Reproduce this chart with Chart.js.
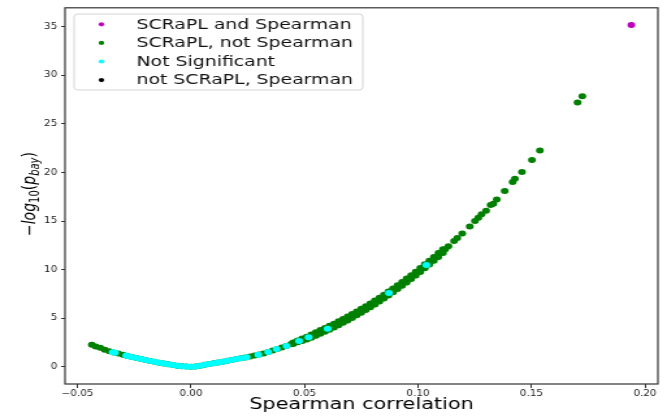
<!DOCTYPE html>
<html>
<head>
<meta charset="utf-8">
<script src="https://cdn.jsdelivr.net/npm/chart.js@4.4.0/dist/chart.umd.min.js"></script>
<style>
  html, body { margin: 0; padding: 0; background: #fff; overflow: hidden; }
  #wrap { width: 513px; height: 417px; transform: scaleX(1.3002); transform-origin: 0 0; }
</style>
</head>
<body>
<div id="wrap"><canvas id="chart" width="513" height="417"></canvas></div>
<script>
// series
let greenX = [-0.0437,-0.042,-0.040,-0.038,-0.036,-0.034,-0.032,-0.030,-0.028,-0.026,-0.024,-0.022,-0.020,-0.018,-0.016,-0.014,-0.012,-0.010,-0.008,-0.006,-0.004,-0.002,0.000,0.002,0.004,0.006,0.008,0.010,0.012,0.014,0.016,0.018,0.020,0.022,0.024,0.026,0.028,0.030,0.032,0.034,0.036,0.038,0.040,0.042,0.044,0.046,0.048,0.050,0.052,0.054,0.056,0.058,0.060,0.062,0.064,0.066,0.068,0.070,0.072,0.074,0.076,0.078,0.080,0.082,0.084,0.086,0.088,0.090,0.092,0.094,0.096,0.098,0.100,0.102,0.104,0.106,0.108,0.110,0.112,0.1134,0.1159,0.1173,0.1195,0.1228,0.1251,0.1266,0.128,0.130,0.132,0.1332,0.1347,0.1382,0.1417,0.1427,0.1458,0.1502,0.1537,0.1703,0.1724];
let greenY = [2.3,2.1,1.98,1.78,1.62,1.5,1.38,1.25,1.14,1.02,0.92,0.82,0.72,0.62,0.53,0.44,0.36,0.28,0.2,0.14,0.08,0.04,0.02,0.06,0.14,0.22,0.3,0.38,0.46,0.55,0.64,0.73,0.82,0.9,0.98,1.08,1.18,1.28,1.4,1.54,1.7,1.86,2.0,2.16,2.35,2.54,2.72,2.88,3.07,3.28,3.5,3.72,3.93,4.15,4.38,4.62,4.87,5.12,5.38,5.65,5.92,6.2,6.48,6.78,7.08,7.4,7.72,8.05,8.38,8.72,9.07,9.42,9.8,10.17,10.55,10.93,11.32,11.72,12.12,12.42,12.96,13.27,13.72,14.44,15.02,15.36,15.7,16.08,16.66,16.8,17.24,18.1,19.02,19.37,20.05,21.3,22.27,27.2,27.85];

// the thick part of the green band: upper and lower edge
let bandX = [0.045,0.047,0.049,0.051,0.053,0.055,0.057,0.059,0.061,0.063,0.065,0.067,0.069,0.071,0.073,0.075,0.077,0.079,0.081,0.083,0.085,0.087,0.089,0.091,0.093,0.095,0.097,0.099,0.101,0.103,0.105,0.107,0.109,0.111];
let bandUpperY = [2.52,2.72,2.92,3.12,3.34,3.57,3.8,4.02,4.24,4.46,4.7,4.94,5.19,5.45,5.71,5.98,6.26,6.54,6.83,7.13,7.44,7.76,8.08,8.41,8.75,9.1,9.44,9.81,10.18,10.56,10.94,11.32,11.72,12.12];
let bandLowerY = [2.36,2.54,2.68,2.82,3.0,3.21,3.42,3.62,3.84,4.06,4.3,4.54,4.79,5.05,5.31,5.58,5.86,6.14,6.43,6.73,7.04,7.36,7.68,8.01,8.35,8.7,9.04,9.41,9.78,10.16,10.54,10.92,11.32,11.72];

let cyanX = [-0.0345,-0.0335,-0.0285,-0.0275,-0.026,-0.024,-0.022,-0.020,-0.018,-0.016,-0.014,-0.012,-0.010,-0.008,-0.006,-0.004,-0.002,0.000,0.002,0.004,0.006,0.008,0.010,0.012,0.014,0.016,0.018,0.020,0.022,0.0245,0.0296,0.034,0.0377,0.0421,0.0476,0.0518,0.0602,0.0872,0.1037];
let cyanY = [1.52,1.46,1.17,1.11,1.02,0.92,0.82,0.72,0.62,0.53,0.44,0.36,0.28,0.2,0.14,0.08,0.04,0.02,0.06,0.14,0.22,0.3,0.38,0.46,0.55,0.64,0.73,0.82,0.9,1.0,1.26,1.54,1.85,2.16,2.67,3.05,3.93,7.6,10.5];

let magentaX = [0.194];
let magentaY = [35.17];

let blackX = [];
let blackY = [];

let seriesNames = ['SCRaPL and Spearman', 'SCRaPL, not Spearman', 'Not Significant', 'not SCRaPL, Spearman'];
let xTicks = [-0.05, 0.00, 0.05, 0.10, 0.15, 0.20];
let yTicks = [0, 5, 10, 15, 20, 25, 30, 35];
let xRange = [-0.0555, 0.2057];
let yRange = [-1.75, 36.95];

const FONT = "'DejaVu Sans', 'Liberation Sans', sans-serif";
Chart.defaults.font.family = FONT;

function toPoints(xs, ys) {
  return xs.map((x, i) => ({x: x, y: ys[i]}));
}

function dotSet(label, pts, color, order) {
  return {
    label: label,
    data: pts,
    backgroundColor: color,
    borderColor: color,
    borderWidth: 0,
    pointRadius: 3,
    pointHoverRadius: 3,
    order: order
  };
}

let greenPts = toPoints(greenX, greenY)
  .concat(toPoints(bandX, bandUpperY))
  .concat(toPoints(bandX, bandLowerY));

// frame, legend and the y label with subscripts
const extras = {
  id: 'extras',
  afterDraw(chart) {
    const ctx = chart.ctx;
    const a = chart.chartArea;
    ctx.save();
    ctx.strokeStyle = '#333';
    ctx.lineWidth = 1.2;
    ctx.strokeRect(a.left, a.top, a.right - a.left, a.bottom - a.top);

    // legend box
    ctx.beginPath();
    ctx.roundRect(57, 14, 222, 76, 3);
    ctx.fillStyle = 'rgba(255,255,255,0.85)';
    ctx.fill();
    ctx.strokeStyle = '#d4d4d4';
    ctx.lineWidth = 1;
    ctx.stroke();
    ctx.font = '14.5px ' + FONT;
    ctx.textBaseline = 'middle';
    chart.data.datasets.forEach((ds, i) => {
      let y = 24.3 + i * 18.6;
      ctx.beginPath();
      ctx.arc(78, y, 2.1, 0, Math.PI * 2);
      ctx.fillStyle = ds.backgroundColor;
      ctx.fill();
      ctx.fillStyle = '#111';
      ctx.fillText(ds.label, 105, y + 0.5);
    });

    // y title: -log10(p_bay)
    let parts = [
      {t: '\u2212', s: 14, it: false, dy: 0},
      {t: 'log', s: 14, it: true, dy: 0},
      {t: '10', s: 10, it: false, dy: 3.5},
      {t: '(', s: 14, it: false, dy: 0},
      {t: 'p', s: 14, it: true, dy: 0},
      {t: 'bay', s: 10, it: true, dy: 3.5},
      {t: ')', s: 14, it: false, dy: 0}
    ];
    let total = 0;
    parts.forEach(p => {
      ctx.font = (p.it ? 'italic ' : '') + p.s + 'px ' + FONT;
      p.w = ctx.measureText(p.t).width;
      total += p.w;
    });
    ctx.translate(21.5, 194);
    ctx.rotate(-Math.PI / 2);
    ctx.fillStyle = '#000';
    ctx.textBaseline = 'alphabetic';
    let x = -total / 2;
    parts.forEach(p => {
      ctx.font = (p.it ? 'italic ' : '') + p.s + 'px ' + FONT;
      ctx.fillText(p.t, x, 5 + p.dy);
      x += p.w;
    });
    ctx.restore();
  }
};

new Chart(document.getElementById('chart'), {
  type: 'scatter',
  data: {
    datasets: [
      dotSet(seriesNames[0], toPoints(magentaX, magentaY), '#bf00bf', 0),
      dotSet(seriesNames[1], greenPts, '#008000', 3),
      dotSet(seriesNames[2], toPoints(cyanX, cyanY), '#00ffff', 2),
      dotSet(seriesNames[3], toPoints(blackX, blackY), '#000000', 1)
    ]
  },
  options: {
    responsive: false,
    animation: false,
    devicePixelRatio: 1,
    layout: { padding: { left: 0, right: 7, top: 7, bottom: 0 } },
    plugins: { legend: { display: false }, tooltip: { enabled: false } },
    scales: {
      x: {
        type: 'linear',
        min: xRange[0],
        max: xRange[1],
        afterBuildTicks: s => { s.ticks = xTicks.map(v => ({value: v})); },
        afterFit: s => { s.height = 33; },
        grid: { drawOnChartArea: false, drawTicks: true, tickLength: 4, color: '#333' },
        border: { display: false },
        ticks: {
          font: { size: 8 }, color: '#222', padding: 1, maxRotation: 0, autoSkip: false,
          callback: v => (v < 0 ? '\u2212' + Math.abs(v).toFixed(2) : v.toFixed(2))
        },
        title: { display: true, text: 'Spearman correlation', color: '#000', font: { size: 16 }, padding: { top: 0, bottom: 2.5 } }
      },
      y: {
        type: 'linear',
        min: yRange[0],
        max: yRange[1],
        afterBuildTicks: s => { s.ticks = yTicks.map(v => ({value: v})); },
        afterFit: s => { s.width = 50; },
        grid: { drawOnChartArea: false, drawTicks: true, tickLength: 3, color: '#333' },
        border: { display: false },
        ticks: { font: { size: 8 }, color: '#222', padding: 3, callback: v => String(v) }
      }
    }
  },
  plugins: [extras]
});
</script>
</body>
</html>
